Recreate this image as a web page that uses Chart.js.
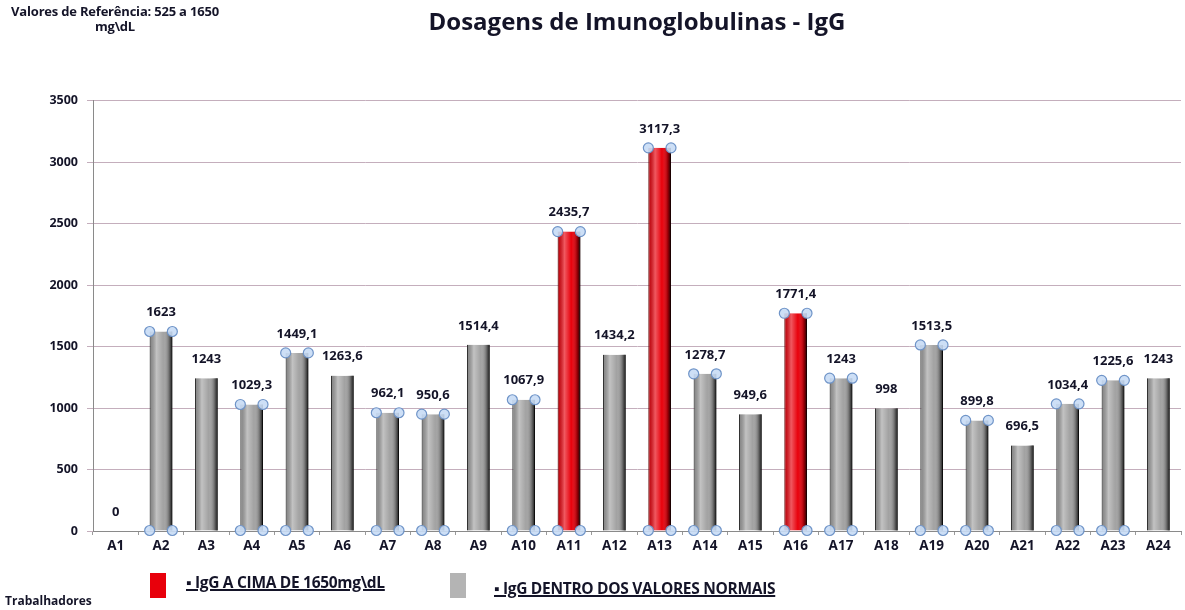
<!DOCTYPE html>
<html>
<head>
<meta charset="utf-8">
<script src="https://cdn.jsdelivr.net/npm/chart.js@4.4.0/dist/chart.umd.min.js"></script>
<style>
  body { margin: 0; background: #fff; }
  #wrap { position: relative; width: 1185px; height: 610px; font-family: "Open Sans", sans-serif; color: #141428; }
  #note { position: absolute; left: 2px; top: 4px; width: 226px; text-align: center; font-size: 13px; font-weight: 700; line-height: 15px; letter-spacing: -0.2px; }
  .leg { position: absolute; font-size: 15.5px; font-weight: 700; text-decoration: underline; text-decoration-thickness: 2px; white-space: nowrap; letter-spacing: -0.3px; }
  .box { position: absolute; width: 16px; height: 25px; }
  #xtitle { position: absolute; left: 5px; top: 592px; font-size: 12px; font-weight: 700; }
</style>
</head>
<body>
<div id="wrap">
  <canvas id="myChart" width="1185" height="610"></canvas>
  <div id="note">Valores de Referência: 525 a 1650<br>mg\dL</div>
  <div class="box" style="left:150px; top:573px; background:#e8000b;"></div>
  <div class="leg" style="left:186px; top:571px;">▪ IgG A CIMA DE 1650mg\dL</div>
  <div class="box" style="left:450px; top:573px; background:#b4b4b4;"></div>
  <div class="leg" style="left:494px; top:577px;">▪ IgG DENTRO DOS VALORES NORMAIS</div>
  <div id="xtitle">Trabalhadores</div>
</div>
<script>
const workers = ["A1", "A2", "A3", "A4", "A5", "A6", "A7", "A8", "A9", "A10", "A11", "A12",
  "A13", "A14", "A15", "A16", "A17", "A18", "A19", "A20", "A21", "A22", "A23", "A24"];
const igg = [0, 1623, 1243, 1029.3, 1449.1, 1263.6, 962.1, 950.6, 1514.4, 1067.9, 2435.7, 1434.2,
  3117.3, 1278.7, 949.6, 1771.4, 1243, 998, 1513.5, 899.8, 696.5, 1034.4, 1225.6, 1243];
const limit = 1650;
const yTicks = [0, 500, 1000, 1500, 2000, 2500, 3000, 3500];
// bars that still show the Excel selection handles in the scan
const selected = ["A2", "A4", "A5", "A7", "A8", "A10", "A11", "A13", "A14", "A16", "A17", "A19", "A20", "A22", "A23"];

const above = igg.map((v) => (v > limit ? v : null));
const normal = igg.map((v) => (v > limit ? null : v));

const fmt = (v) => String(v).replace(".", ",");

const barLook = {
  id: "barLook",
  afterDatasetsDraw(chart) {
    const ctx = chart.ctx;
    chart.data.datasets.forEach((ds, di) => {
      const meta = chart.getDatasetMeta(di);
      meta.data.forEach((bar, i) => {
        if (ds.data[i] === null) return;
        const { x, y, base, width } = bar.getProps(["x", "y", "base", "width"], true);
        const l = x - width / 2;
        if (base - y > 1) {
          const g = ctx.createLinearGradient(l, 0, l + width, 0);
          g.addColorStop(0, "rgba(0,0,0,0.18)");
          g.addColorStop(0.3, "rgba(255,255,255,0.35)");
          g.addColorStop(0.6, "rgba(255,255,255,0)");
          g.addColorStop(0.85, "rgba(0,0,0,0.3)");
          g.addColorStop(1, "rgba(0,0,0,0.85)");
          ctx.fillStyle = g;
          ctx.fillRect(l, y, width, base - y);
        }
        if (selected.includes(workers[i])) {
          ctx.lineWidth = 1.2;
          [[l, y], [l + width, y], [l, base], [l + width, base]].forEach(([cx, cy]) => {
            ctx.beginPath();
            ctx.arc(cx, cy, 5, 0, Math.PI * 2);
            ctx.fillStyle = "rgba(200,220,245,0.9)";
            ctx.strokeStyle = "#6f94c8";
            ctx.fill();
            ctx.stroke();
          });
        }
        ctx.fillStyle = "#141428";
        ctx.font = "bold 13px 'Open Sans'";
        ctx.textAlign = "center";
        ctx.textBaseline = "middle";
        ctx.fillText(fmt(ds.data[i]), x, y - 19);
      });
    });
  },
};

new Chart(document.querySelector("#myChart"), {
  type: "bar",
  data: {
    labels: workers,
    datasets: [
      {
        label: "IgG A CIMA DE 1650mg\\dL",
        data: above,
        backgroundColor: "#e8000b",
        borderColor: "#7a0000",
        borderWidth: { left: 1, right: 1, top: 0, bottom: 0 },
      },
      {
        label: "IgG DENTRO DOS VALORES NORMAIS",
        data: normal,
        backgroundColor: "#a2a2a2",
        borderColor: "#3a3a3a",
        borderWidth: { left: 1, right: 1, top: 0, bottom: 0 },
      },
    ],
  },
  options: {
    responsive: false,
    animation: false,
    grouped: false,
    barPercentage: 0.5,
    categoryPercentage: 1,
    layout: { padding: { left: 0, right: 4, top: 0, bottom: 55 } },
    plugins: {
      legend: { display: false },
      tooltip: { enabled: false },
      title: {
        display: true,
        fullSize: false,
        text: "Dosagens de Imunoglobulinas - IgG",
        color: "#141428",
        font: { family: "Open Sans", size: 24, weight: "bold" },
        padding: { top: 9, bottom: 63 },
      },
    },
    scales: {
      x: {
        grid: { display: true, drawOnChartArea: false, offset: true, tickLength: 4, color: "#9a9a9a" },
        border: { color: "#8a8a8a" },
        ticks: { color: "#141428", font: { family: "Open Sans", size: 13.5, weight: "bold" }, padding: 3 },
        afterFit(scale) { scale.height = 24; },
      },
      y: {
        min: 0,
        max: 3500,
        afterBuildTicks(scale) { scale.ticks = yTicks.map((v) => ({ value: v })); },
        grid: { color: "#c4aebc", tickLength: 6 },
        border: { color: "#8a8a8a" },
        ticks: {
          color: "#141428",
          font: { family: "Open Sans", size: 12.5, weight: "bold" },
          padding: 9,
          callback: (v) => String(v),
        },
        afterFit(scale) { scale.width = 93; },
      },
    },
  },
  plugins: [barLook],
});
</script>
</body>
</html>
